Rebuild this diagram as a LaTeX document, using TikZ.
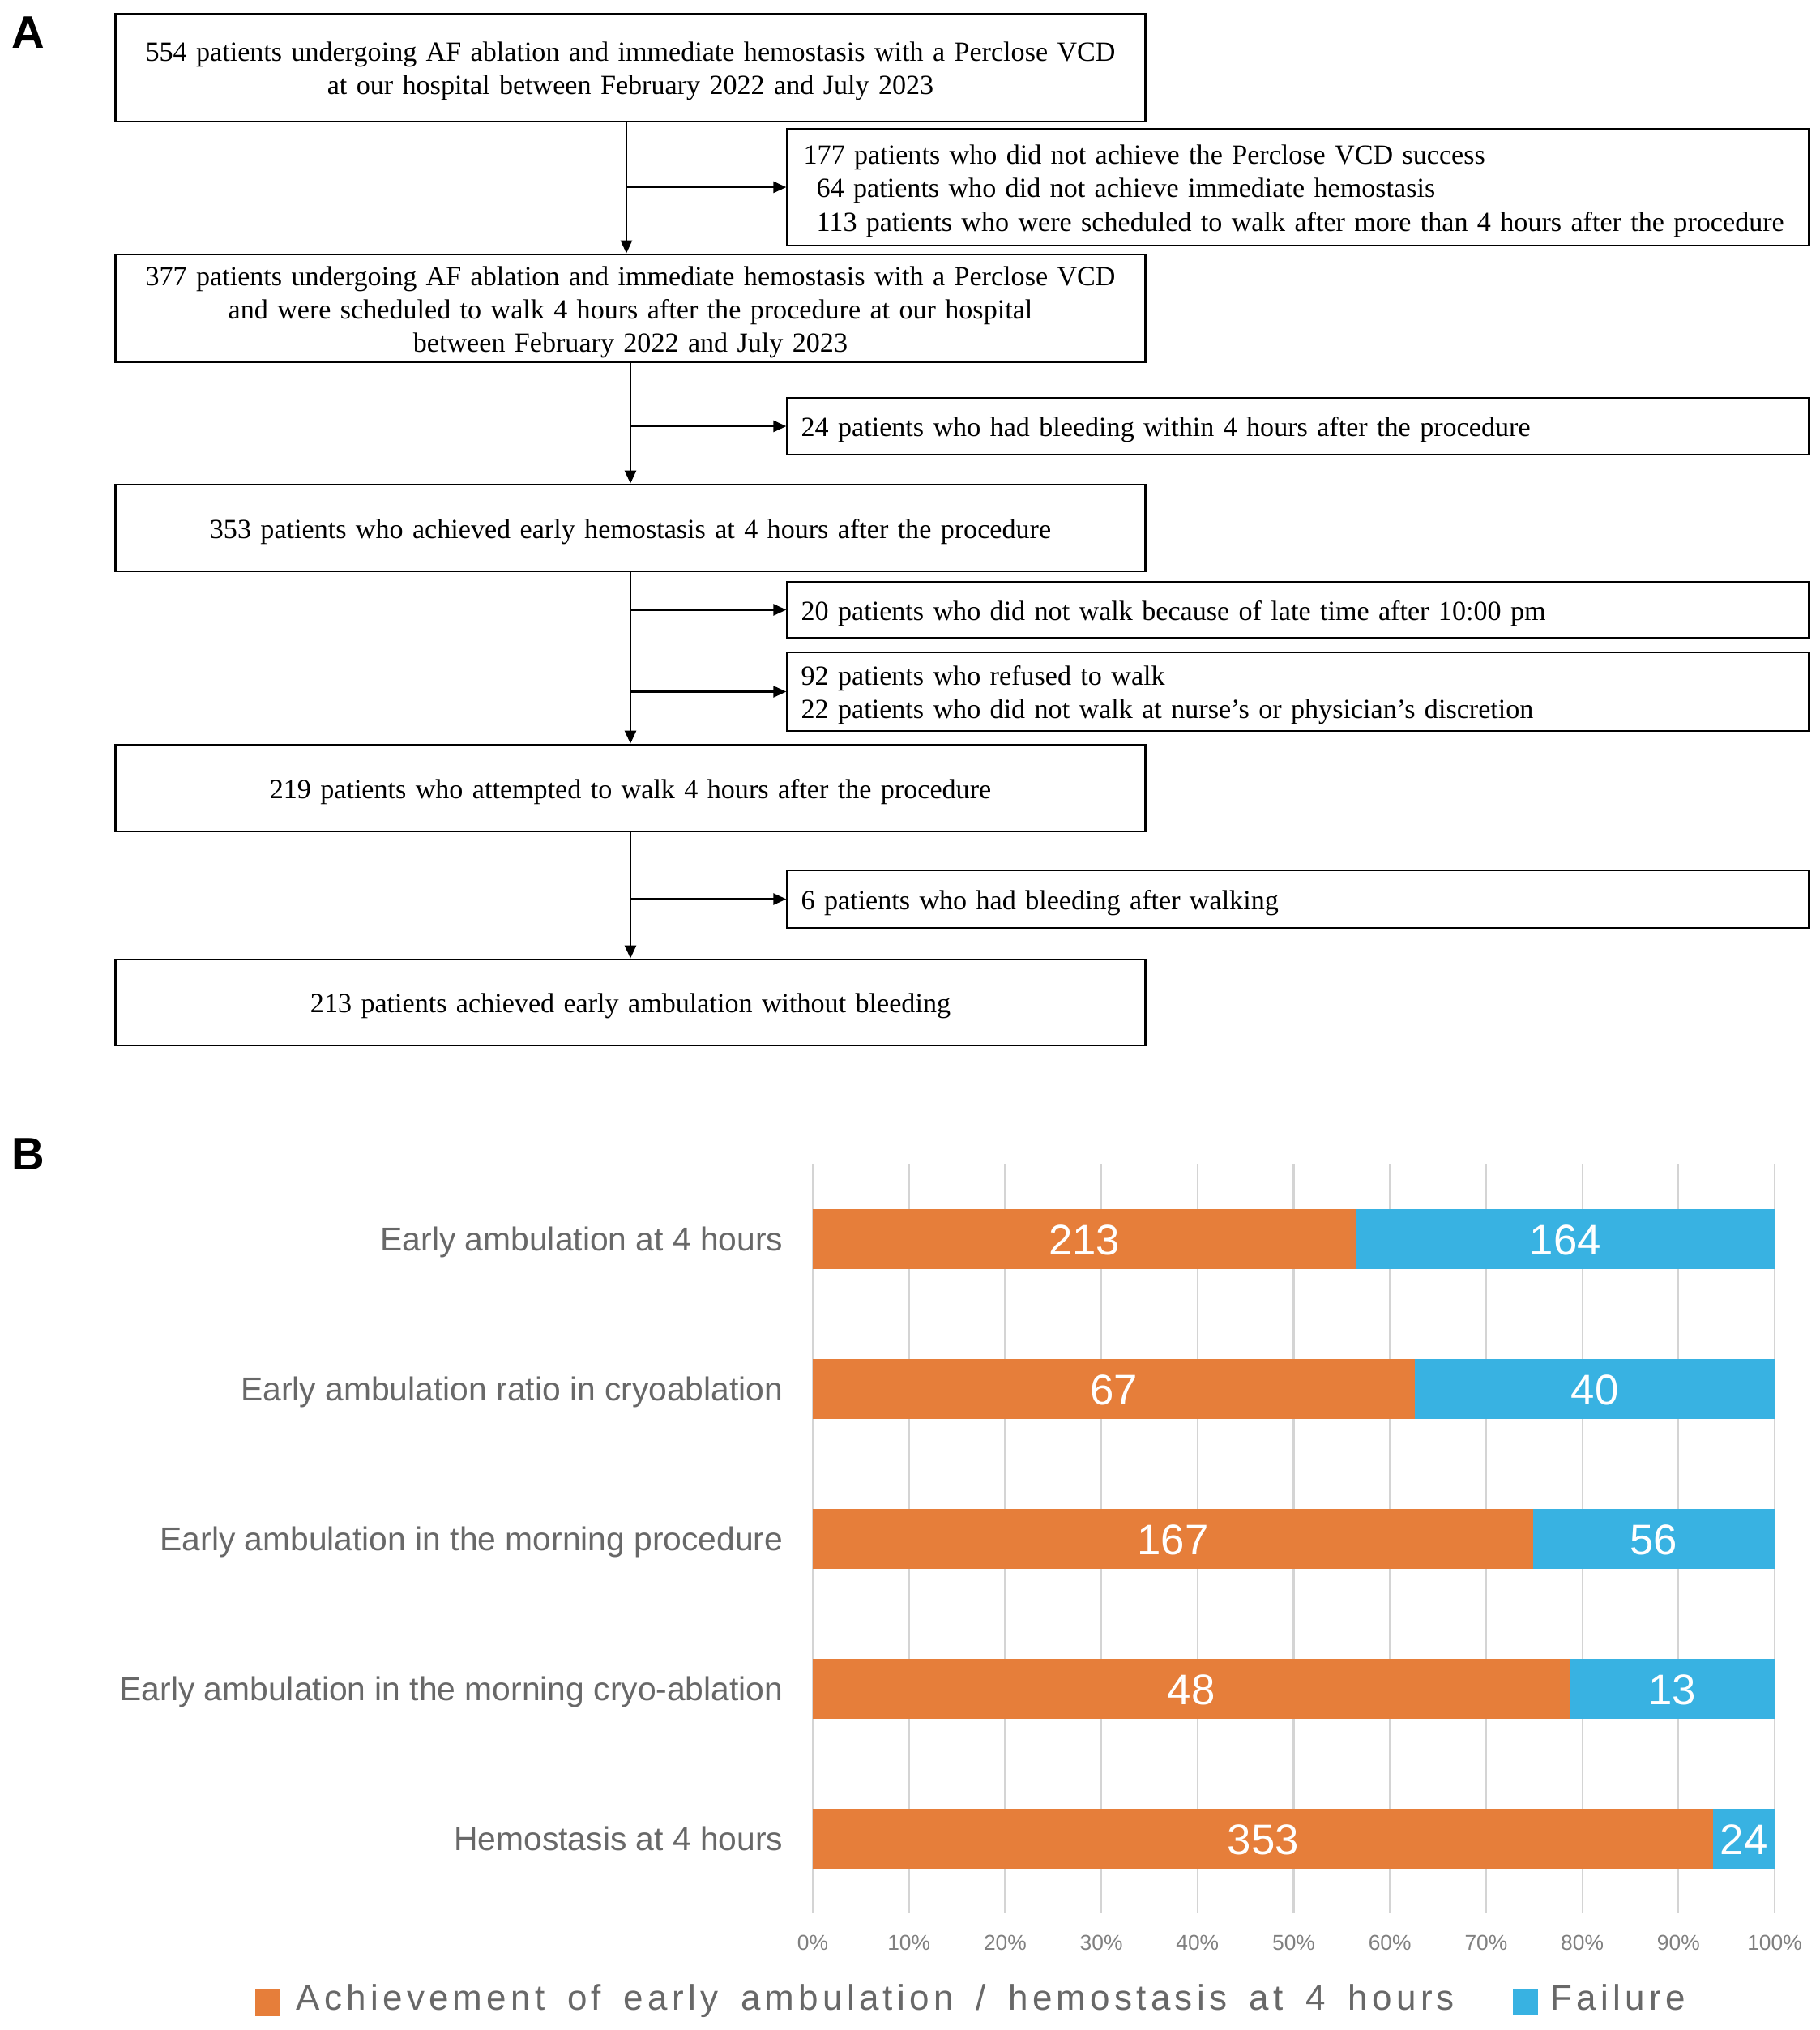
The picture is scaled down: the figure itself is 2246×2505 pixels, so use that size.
\documentclass[tikz,border=0pt]{standalone}
\usepackage{fontspec}
\setmainfont{Liberation Serif}
\newfontfamily\chartfont{Liberation Sans}
\newfontfamily\legendfont[LetterSpace=12]{Liberation Sans}
\newcommand\legendspacing{\spaceskip=7.9pt\relax}
\usetikzlibrary{arrows.meta}
\definecolor{barorange}{HTML}{E67E3A}
\definecolor{barblue}{HTML}{38B2E2}
\definecolor{labgray}{HTML}{686868}
\definecolor{tickgray}{HTML}{808080}
\definecolor{gridgray}{HTML}{D4D4D4}
\begin{document}
\begin{tikzpicture}[x=0.01cm,y=-0.01cm,
  box/.style={draw=black,line width=0.75pt,inner xsep=0.17cm,inner ysep=0pt,
    font=\fontsize{9.7}{11.7}\selectfont,execute at begin node={\rule{0pt}{9.4pt}}},
  mainbox/.style={box,text width=12.36cm,align=center},
  sidebox/.style={box,text width=12.26cm,align=left},
  arr/.style={line width=0.7pt,-{Triangle[length=0.16cm,width=0.14cm]}},
  catlabel/.style={font=\chartfont\fontsize{11.6}{13}\selectfont,text=labgray,anchor=base east,inner sep=0pt},
  barnum/.style={font=\chartfont\fontsize{15}{18}\selectfont,text=white,anchor=base,inner sep=0pt},
  ticklabel/.style={font=\chartfont\fontsize{7.5}{9}\selectfont,text=tickgray,anchor=base,inner sep=0pt},
  legendtext/.style={font=\legendfont\fontsize{12.5}{15}\selectfont,text=labgray,anchor=base west,inner sep=0pt},
  panel/.style={font=\chartfont\bfseries\fontsize{16}{19}\selectfont,anchor=base west,inner sep=0pt}
]
\useasboundingbox (0,0) rectangle (2246,2505);
\fill[white] (0,0) rectangle (2246,2505);

% panel letters
\node[panel] (lA) at (14,59) {A};
\node[panel] (lB) at (14,1443) {B};

% flowchart
\node[mainbox,minimum height=1.33cm] (b1) at (778,83.5)
  {554 patients undergoing AF ablation and immediate hemostasis with a Perclose VCD\\at our hospital between February 2022 and July 2023};
\node[box,text width=12.4cm,inner xsep=0.1cm,align=left,minimum height=1.44cm] (b2) at (1602,231)
  {\hspace*{0.1cm}177 patients who did not achieve the Perclose VCD success\\
   \hspace*{0.26cm}64 patients who did not achieve immediate hemostasis\\
   \hspace*{0.26cm}\mbox{113 patients who were scheduled to walk after more than 4 hours after the procedure}};
\node[mainbox,minimum height=1.33cm] (b3) at (778,380.5)
  {377 patients undergoing AF ablation and immediate hemostasis with a Perclose VCD\\and were scheduled to walk 4 hours after the procedure at our hospital\\between February 2022 and July 2023};
\node[sidebox,minimum height=0.70cm] (b4) at (1602,526)
  {24 patients who had bleeding within 4 hours after the procedure};
\node[mainbox,minimum height=1.07cm] (b5) at (778,651.5)
  {353 patients who achieved early hemostasis at 4 hours after the procedure};
\node[sidebox,minimum height=0.69cm] (b6) at (1602,752.5)
  {20 patients who did not walk because of late time after 10:00 pm};
\node[sidebox,minimum height=0.97cm] (b7) at (1602,853.5)
  {92 patients who refused to walk\\22 patients who did not walk at nurse's or physician's discretion};
\node[mainbox,minimum height=1.07cm] (b8) at (778,972.5)
  {219 patients who attempted to walk 4 hours after the procedure};
\node[sidebox,minimum height=0.71cm] (b9) at (1602,1109.5)
  {6 patients who had bleeding after walking};
\node[mainbox,minimum height=1.06cm] (b10) at (778,1237)
  {213 patients achieved early ambulation without bleeding};

\draw[arr] ([xshift=-0.05cm]b1.south) -- ([xshift=-0.05cm]b3.north);
\draw[arr] ([xshift=-0.05cm]b1.south |- b2.west) -- (b2.west);
\draw[arr] (b3.south) -- (b5.north);
\draw[arr] (b3.south |- b4.west) -- (b4.west);
\draw[arr] (b5.south) -- (b8.north);
\draw[arr] (b5.south |- b6.west) -- (b6.west);
\draw[arr] (b5.south |- b7.west) -- (b7.west);
\draw[arr] (b8.south) -- (b10.north);
\draw[arr] (b8.south |- b9.west) -- (b9.west);

% chart grid
\foreach \i in {0,...,10} {
  \draw[gridgray,line width=0.6pt] ({1003+118.7*\i},1436) -- ({1003+118.7*\i},2361);
  \pgfmathtruncatemacro\p{\i*10}
  \node[ticklabel] (t\i) at ({1003+118.7*\i},2406) {\p\%};
}

% bars
\foreach \c/\a/\b [count=\k] in {1529/213/164, 1714/67/40, 1899/167/56, 2084/48/13, 2269/353/24} {
  \pgfmathsetmacro\xs{1003+1187*(\a/(\a+\b))}
  \fill[barorange] (1003,\c-37) rectangle (\xs,\c+37);
  \fill[barblue] (\xs,\c-37) rectangle (2190,\c+37);
  \node[barnum] (va\k) at ({(1003+\xs)/2},\c+19) {\a};
  \node[barnum] (vb\k) at ({(\xs+2190)/2},\c+19) {\b};
}

% category labels
\node[catlabel] (c1) at (967,1543) {Early ambulation at 4 hours};
\node[catlabel] (c2) at (967,1728) {Early ambulation ratio in cryoablation};
\node[catlabel] (c3) at (967,1913) {Early ambulation in the morning procedure};
\node[catlabel] (c4) at (967,2098) {Early ambulation in the morning cryo-ablation};
\node[catlabel] (c5) at (967,2283) {Hemostasis at 4 hours};

% legend
\fill[barorange] (315,2454) rectangle (345,2488);
\node[legendtext] (l1) at (365,2480) {\legendspacing Achievement of early ambulation / hemostasis at 4 hours};
\fill[barblue] (1867,2454) rectangle (1898,2487);
\node[legendtext] (l2) at (1913,2480) {Failure};
\end{tikzpicture}
\end{document}
